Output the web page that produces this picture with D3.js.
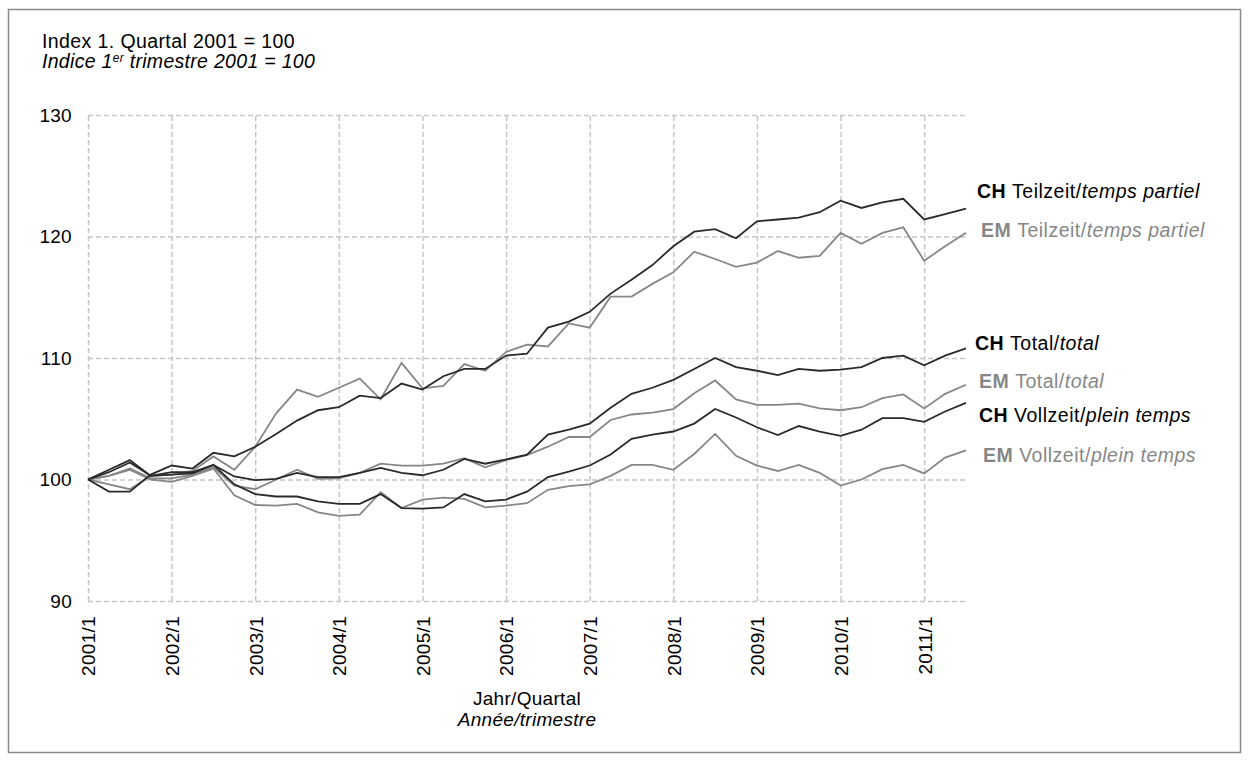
<!DOCTYPE html>
<html>
<head>
<meta charset="utf-8">
<script src="https://cdn.jsdelivr.net/npm/d3@7"></script>
<style>
  body { margin: 0; background: #fff; }
  text { font-family: "Liberation Sans", Arial, sans-serif; }
</style>
</head>
<body>
<div id="chart"></div>
<script>
// Categories: quarters 2001/1 .. 2011/3
var years = [2001, 2002, 2003, 2004, 2005, 2006, 2007, 2008, 2009, 2010, 2011];
var quarters = [];
years.forEach(function(y) {
    for (var q = 1; q <= 4; q++) {
        if (y === 2011 && q > 3) break;
        quarters.push(y + "/" + q);
    }
});
var xTickLabels = ["2001/1", "2002/1", "2003/1", "2004/1", "2005/1", "2006/1",
                   "2007/1", "2008/1", "2009/1", "2010/1", "2011/1"];
var yTickValues = [90, 100, 110, 120, 130];

// Series values (index, 1st quarter 2001 = 100)
var chTeilzeit = [100, 99.0, 99.0, 100.4, 101.15, 100.9, 102.2, 101.9, 102.7, 103.75,
    104.85, 105.7, 105.95, 106.9, 106.7, 107.9, 107.4, 108.5, 109.1, 109.1,
    110.2, 110.35, 112.5, 113.0, 113.8, 115.3, 116.45, 117.65, 119.2, 120.4,
    120.6, 119.85, 121.25, 121.4, 121.55, 122.0, 122.95, 122.35, 122.8, 123.1,
    121.4, 121.85, 122.3];
var emTeilzeit = [100, 99.6, 99.2, 100.3, 100.4, 100.7, 101.9, 100.8, 102.7, 105.45,
    107.4, 106.8, 107.55, 108.3, 106.6, 109.6, 107.5, 107.7, 109.5, 108.95,
    110.5, 111.1, 110.95, 112.85, 112.5, 115.05, 115.05, 116.1, 117.05, 118.75,
    118.15, 117.5, 117.85, 118.8, 118.25, 118.4, 120.3, 119.4, 120.3, 120.75,
    118.0, 119.2, 120.3];
var chTotal = [100, 100.6, 101.4, 100.3, 100.6, 100.6, 101.2, 100.25, 99.95, 100.05,
    100.55, 100.2, 100.2, 100.55, 100.95, 100.55, 100.35, 100.8, 101.7, 101.3,
    101.65, 102.05, 103.7, 104.1, 104.6, 105.9, 107.05, 107.55, 108.2, 109.1,
    110.0, 109.25, 108.95, 108.6, 109.1, 108.95, 109.05, 109.25, 110.0, 110.2,
    109.4, 110.2, 110.8];
var emTotal = [100, 100.3, 100.9, 100.1, 100.1, 100.4, 101.0, 99.5, 99.2, 100.0,
    100.8, 100.05, 100.1, 100.55, 101.3, 101.15, 101.15, 101.3, 101.75, 101.0,
    101.6, 102.0, 102.7, 103.5, 103.5, 104.9, 105.35, 105.5, 105.8, 107.1,
    108.15, 106.6, 106.15, 106.15, 106.25, 105.85, 105.7, 105.95, 106.7, 107.0,
    105.85, 107.05, 107.8];
var chVollzeit = [100, 100.8, 101.6, 100.3, 100.4, 100.5, 101.2, 99.6, 98.8, 98.6,
    98.6, 98.2, 98.0, 98.0, 98.8, 97.65, 97.6, 97.7, 98.8, 98.2,
    98.35, 99.0, 100.2, 100.65, 101.15, 102.05, 103.35, 103.7, 103.95, 104.6,
    105.8, 105.1, 104.3, 103.65, 104.4, 103.95, 103.6, 104.1, 105.05, 105.05,
    104.75, 105.6, 106.3];
var emVollzeit = [100, 100.3, 100.8, 100.0, 99.8, 100.3, 100.9, 98.7, 97.9, 97.85,
    98.0, 97.3, 97.0, 97.1, 98.95, 97.65, 98.35, 98.5, 98.4, 97.7,
    97.85, 98.05, 99.15, 99.45, 99.6, 100.3, 101.2, 101.2, 100.8, 102.1,
    103.75, 101.95, 101.15, 100.7, 101.2, 100.55, 99.5, 100.0, 100.85, 101.2,
    100.5, 101.8, 102.4];

var seriesNames = ["EM Vollzeit", "EM Total", "EM Teilzeit", "CH Vollzeit", "CH Total", "CH Teilzeit"];
var seriesValues = [emVollzeit, emTotal, emTeilzeit, chVollzeit, chTotal, chTeilzeit];

// Labels at the right: bold part, regular part, italic part
var labelBold = ["CH", "EM", "CH", "EM", "CH", "EM"];
var labelRegular = ["Teilzeit/", "Teilzeit/", "Total/", "Total/", "Vollzeit/", "Vollzeit/"];
var labelItalic = ["temps partiel", "temps partiel", "total", "total", "plein temps", "plein temps"];

// Set svg dimensions
const width = 1249;
const height = 761;
var plot = {left: 88, right: 966, top: 115, bottom: 601};

var darkColor = "#2a2a2a";
var grayColor = "#878787";

var svg = d3.select("#chart")
            .append("svg")
                .attr("width", width)
                .attr("height", height);

// Outer frame
svg.append("rect")
    .attr("x", 8.5)
    .attr("y", 9.5)
    .attr("width", 1232)
    .attr("height", 743)
    .attr("fill", "none")
    .attr("stroke", "#8a8a8a")
    .attr("stroke-width", 1.5);

// Scales
var scaleX = d3.scalePoint()
                .domain(quarters)
                .range([plot.left, plot.right]);

var scaleY = d3.scaleLinear()
                .domain([90, 130])
                .range([plot.bottom, plot.top]);

// Y axis with horizontal grid lines
var axisY = svg.append("g")
    .attr("transform", "translate(" + plot.left + ",0)")
    .call(d3.axisLeft(scaleY)
            .tickValues(yTickValues)
            .tickSize(-(plot.right - plot.left))
            .tickPadding(16));

// X axis with vertical grid lines
var axisX = svg.append("g")
    .attr("transform", "translate(0," + plot.bottom + ")")
    .call(d3.axisBottom(scaleX)
            .tickValues(xTickLabels)
            .tickSize(-(plot.bottom - plot.top)));

[axisX, axisY].forEach(function(ax) {
    ax.select(".domain").remove();
    ax.selectAll(".tick line")
        .attr("stroke", "#c6c6c6")
        .attr("stroke-width", 1.5)
        .attr("stroke-dasharray", "5,3");
    ax.selectAll(".tick text")
        .attr("fill", "#000")
        .style("font-size", "19px")
        .style("letter-spacing", "0.3px");
});

axisX.selectAll(".tick text")
    .attr("transform", "rotate(-90)")
    .attr("x", -15)
    .attr("y", 0)
    .attr("dy", "0.36em")
    .style("text-anchor", "end");

// Lines
var line = d3.line()
    .x(function(d, i) { return scaleX(quarters[i]); })
    .y(function(d) { return scaleY(d); });

svg.selectAll("path.series")
    .data(seriesValues)
    .enter()
    .append("path")
        .attr("class", "series")
        .attr("d", line)
        .attr("fill", "none")
        .attr("stroke", function(d, i) { return seriesNames[i].indexOf("CH") === 0 ? darkColor : grayColor; })
        .attr("stroke-width", 1.8)
        .attr("stroke-linejoin", "miter");

// Series labels on the right
var labelPos = [
    {x: 977, y: 198}, {x: 981, y: 237}, {x: 975, y: 350},
    {x: 979, y: 388}, {x: 979, y: 422}, {x: 983, y: 462}
];

labelBold.forEach(function(b, i) {
    var col = b === "CH" ? "#000" : grayColor;
    var t = svg.append("text")
        .attr("x", labelPos[i].x)
        .attr("y", labelPos[i].y)
        .attr("fill", col)
        .style("font-size", "19.5px")
        .style("letter-spacing", "0.5px");
    t.append("tspan").style("font-weight", "bold").text(b + " ");
    t.append("tspan").text(labelRegular[i]);
    t.append("tspan").style("font-style", "italic").text(labelItalic[i]);
});

// Index note top left
svg.append("text")
    .attr("x", 42)
    .attr("y", 48)
    .attr("fill", "#000")
    .style("font-size", "19.5px")
    .style("letter-spacing", "0.4px")
    .text("Index 1. Quartal 2001 = 100");

var note2 = svg.append("text")
    .attr("x", 42)
    .attr("y", 68)
    .attr("fill", "#000")
    .style("font-size", "19.5px")
    .style("letter-spacing", "0.3px")
    .style("font-style", "italic");
note2.append("tspan").text("Indice 1");
note2.append("tspan").attr("dy", -6).style("font-size", "12px").text("er");
note2.append("tspan").attr("dy", 6).text(" trimestre 2001 = 100");

// X axis title
var midX = (plot.left + plot.right) / 2;
svg.append("text")
    .attr("x", midX)
    .attr("y", 705)
    .attr("fill", "#000")
    .style("font-size", "19px")
    .style("letter-spacing", "0.3px")
    .style("text-anchor", "middle")
    .text("Jahr/Quartal");

svg.append("text")
    .attr("x", midX)
    .attr("y", 726)
    .attr("fill", "#000")
    .style("font-size", "19px")
    .style("letter-spacing", "0.3px")
    .style("font-style", "italic")
    .style("text-anchor", "middle")
    .text("Année/trimestre");
</script>
</body>
</html>
